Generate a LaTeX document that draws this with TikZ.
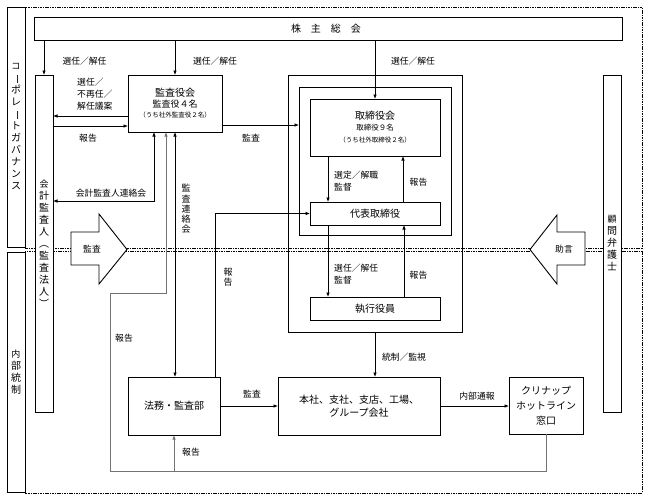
\documentclass[tikz,border=0pt]{standalone}
\usepackage{fontspec}
\setmainfont{Noto Sans CJK JP}
\usepackage{tikz}
\usetikzlibrary{arrows.meta, positioning, calc}
\newcommand{\nobasu}{\rotatebox[origin=c]{-90}{ー}}

\begin{document}
\begin{tikzpicture}[x=1pt, y=-1pt,
    >={Latex[length=4.5pt,width=3.6pt]},
    area/.style={draw, line width=0.8pt, dash pattern=on 1.6pt off 0.8pt},
    box/.style={draw, line width=0.9pt, inner sep=0pt, outer sep=0pt, align=center},
    wbox/.style={box, fill=white},
    tate/.style={font=\fontsize{9}{10.2}\selectfont, align=center, inner sep=0pt},
    lbl/.style={font=\fontsize{8.8}{12}\selectfont, inner sep=0pt},
    conn/.style={line width=0.75pt},
    fb/.style={line width=0.75pt, draw=black!55},
    blk/.style={draw, line width=0.9pt, fill=white, line join=miter}]
    \useasboundingbox (0,0) rectangle (648,499);

    % dashed areas
    \draw[area] (25,7) rectangle (642,248);
    \draw[area] (25,251.5) rectangle (642,493);

    \node[wbox, minimum width=18pt, minimum height=240pt] (cg) at (16,127)
        {\fontsize{9}{10.4}\selectfont コ\\\nobasu\\ポ\\レ\\\nobasu\\ト\\ガ\\バ\\ナ\\ン\\ス};
    \node[wbox, minimum width=18pt, minimum height=240pt] (ic) at (16,372)
        {\fontsize{9}{10.2}\selectfont 内\\部\\統\\制};

    % block arrows
    \draw[blk] (71,232) -- (99,232) -- (99,214) -- (127,249.5) -- (99,284) -- (99,265) -- (71,265) -- cycle;
    \node[lbl] (audarrow) at (92,249) {監査};
    \draw[blk] (585,232) -- (557,232) -- (557,215) -- (530,249.5) -- (557,284) -- (557,265) -- (585,265) -- cycle;
    \node[lbl] (advarrow) at (564,249) {助言};

    % boxes
    \node[wbox, minimum width=588pt, minimum height=23pt, font=\fontsize{10}{12}\selectfont] (kabu) at (328,28.5)
        {\hspace*{-4pt}株\hspace{10pt}主\hspace{10pt}総\hspace{10pt}会};
    \node[wbox, minimum width=18pt, minimum height=337pt] (kaikei) at (44,243.5)
        {\fontsize{9}{9.9}\selectfont 会\\計\\監\\査\\人\\︵\\監\\査\\法\\人\\︶};
    \node[wbox, minimum width=18pt, minimum height=337pt] (komon) at (612,243.5)
        {\fontsize{9}{11}\selectfont 顧\\問\\弁\\護\\士};
    \node[wbox, minimum width=94pt, minimum height=57pt] (kansa) at (175,103.5)
        {\fontsize{10}{12}\selectfont 監査役会\\[-1pt]
         \fontsize{9}{11}\selectfont 監査役４名\\[-2pt]
         \fontsize{6.5}{8}\selectfont （うち社外監査役２名）};
    \node[box, minimum width=174pt, minimum height=257pt] (board) at (375,203.5) {};
    \node[box, minimum width=152pt, minimum height=148pt] (bod) at (375,161) {};
    \node[wbox, minimum width=130pt, minimum height=57pt] (tori) at (375,127.5)
        {\fontsize{10}{12}\selectfont 取締役会\\[-1pt]
         \fontsize{7.5}{9}\selectfont 取締役９名\\[0pt]
         \fontsize{6.5}{8}\selectfont （うち社外取締役２名）};
    \node[wbox, minimum width=130pt, minimum height=23pt, font=\fontsize{10}{12}\selectfont] (daihyo) at (375,213.5) {代表取締役};
    \node[wbox, minimum width=130pt, minimum height=23pt, font=\fontsize{10}{12}\selectfont] (shikko) at (375,308.5) {執行役員};
    \node[wbox, minimum width=92pt, minimum height=58pt, font=\fontsize{10}{12}\selectfont] (homu) at (174,406) {法務・監査部};
    \node[wbox, minimum width=162pt, minimum height=58pt, font=\fontsize{10}{13}\selectfont] (honsha) at (359,406)
        {本社、支社、支店、工場、\\グループ会社};
    \node[wbox, minimum width=74pt, minimum height=57pt, font=\fontsize{10}{15}\selectfont] (hotline) at (546,405.5)
        {クリナップ\\ホットライン\\窓口};

    % from the shareholders
    \draw[conn,->] (kaikei.north |- kabu.south) -- (kaikei.north);
    \node[lbl] (l1) at (84.5,61) {選任／解任};
    \draw[conn,->] (kansa.north |- kabu.south) -- (kansa.north);
    \node[lbl] (l2) at (215,61) {選任／解任};
    \draw[conn,->] (tori.north |- kabu.south) -- (tori.north);
    \node[lbl] (l3) at (413,61) {選任／解任};

    % auditors
    \draw[conn,->] (kansa.west |- 0,116) -- (kaikei.east |- 0,116);
    \draw[conn,->] (kaikei.east |- 0,126) -- (kansa.west |- 0,126);
    \node[lbl, align=left, anchor=north west] (l4) at (77,77.5) {選任／\\不再任／\\解任議案};
    \node[lbl] (l5) at (88,138) {報告};
    \draw[conn,->] (kansa.east |- 0,125) -- (bod.west |- 0,125);
    \node[lbl] (l6) at (251,138) {監査};
    \draw[conn,<->] (kaikei.east |- 0,201) -| ([xshift=-21pt]kansa.south);
    \node[lbl] (l7) at (111,193) {会計監査人連絡会};
    \draw[conn,<->] (kansa.south) -- (kansa.south |- homu.north);
    \node[tate] (l8) at (186,209) {監\\査\\連\\絡\\会};
    \draw[conn,->] ([xshift=41pt]homu.north) |- (daihyo.west);
    \node[tate] (l9) at (228,277) {報\\告};

    % board and officers
    \draw[conn,->] ([xshift=-47pt]tori.south) -- ([xshift=-47pt]daihyo.north);
    \draw[conn,->] ([xshift=28pt]daihyo.north) -- ([xshift=28pt]tori.south);
    \node[lbl, align=left, anchor=west] (l10) at (334,181) {選定／解職\\監督};
    \node[lbl] (l11) at (418.5,182) {報告};
    \draw[conn,->] ([xshift=-47pt]daihyo.south) -- ([xshift=-47pt]shikko.north);
    \draw[conn,->] ([xshift=29pt]shikko.north) -- ([xshift=29pt]daihyo.south);
    \node[lbl, align=left, anchor=west] (l12) at (334,274.5) {選任／解任\\監督};
    \node[lbl] (l13) at (418.5,275) {報告};
    \draw[conn,->] (board.south) -- (board.south |- honsha.north);
    \node[lbl] (l14) at (404,357) {統制／監視};

    % internal control
    \draw[conn,->] (homu.east) -- (honsha.west);
    \node[lbl] (l15) at (252,394) {監査};
    \draw[conn,->] (honsha.east) -- (hotline.west |- honsha.east);
    \node[lbl] (l16) at (477,396) {内部通報};

    % hotline reports
    \coordinate (loopbl) at (110,471);
    \coordinate (looptl) at (110,293);
    \draw[fb,->] (hotline.south) |- (loopbl) -- (looptl) -| ([xshift=-9pt]kansa.south);
    \draw[fb,->] (homu.south |- loopbl) -- (homu.south);
    \node[lbl] (l17) at (124,338) {報告};
    \node[lbl] (l18) at (191,452) {報告};
\end{tikzpicture}
\end{document}
